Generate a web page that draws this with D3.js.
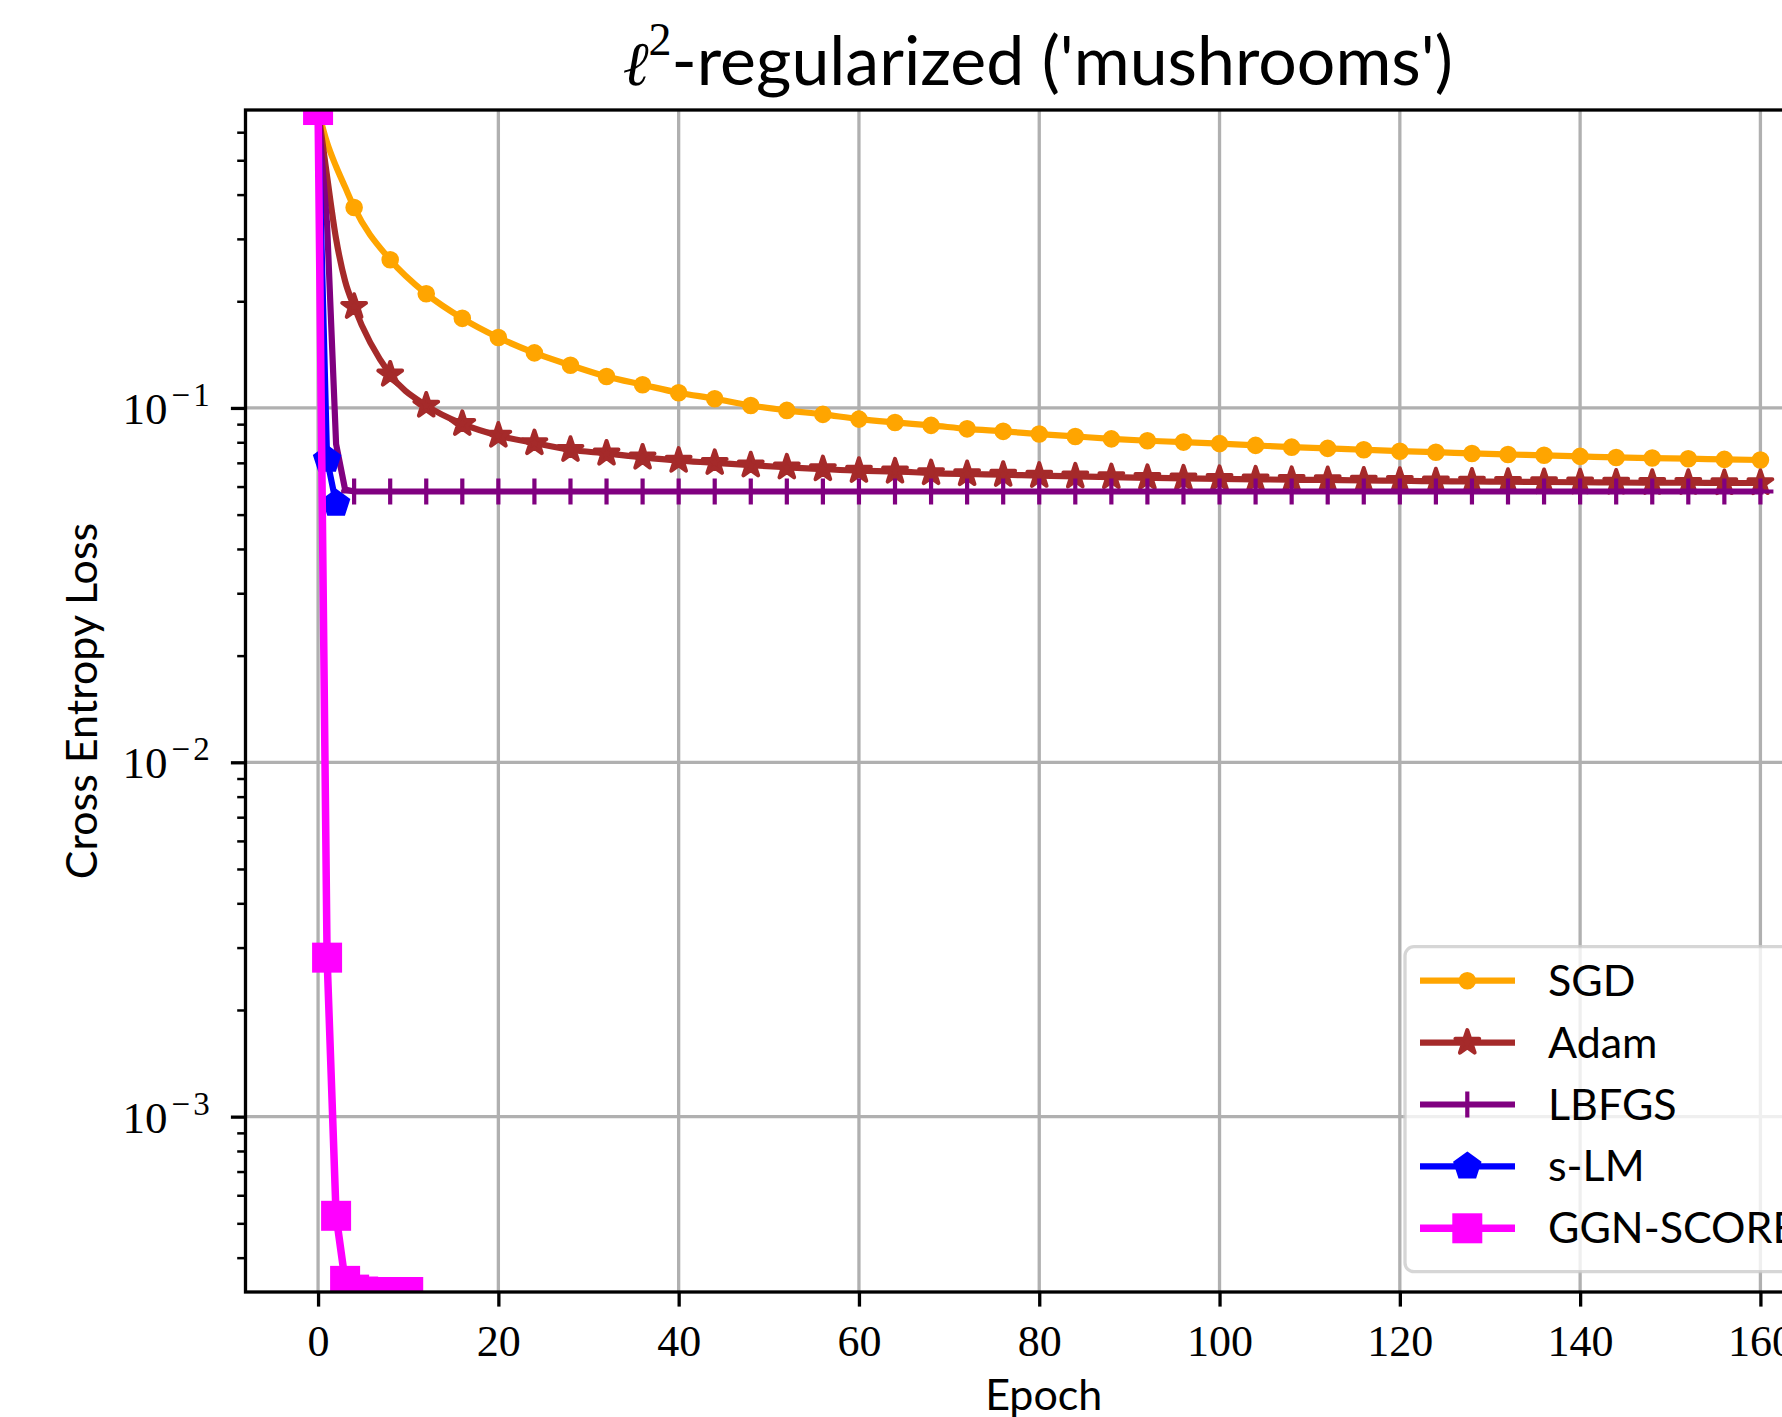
<!DOCTYPE html>
<html>
<head>
<meta charset="utf-8">
<script src="https://cdn.jsdelivr.net/npm/d3@7"></script>
<style>
  body { margin: 0; background: #fff; }
  svg { display: block; }
</style>
</head>
<body>
<div id="chart"></div>
<script>
/* data */
var seriesNames = ["SGD", "Adam", "LBFGS", "s-LM", "GGN-SCORE"];

var longEpochs = [0, 1, 2, 3, 4, 8, 12, 16, 20, 24, 28, 32, 36, 40, 44, 48, 52, 56, 60, 64, 68, 72,
                  76, 80, 84, 88, 92, 96, 100, 104, 108, 112, 116, 120, 124, 128, 132, 136, 140,
                  144, 148, 152, 156, 160];

var sgdLoss = [0.693, 0.56, 0.48, 0.42, 0.368, 0.262, 0.210, 0.179, 0.158, 0.143, 0.132, 0.1227,
               0.1163, 0.1104, 0.1062, 0.1016, 0.0984, 0.0959, 0.0930, 0.0910, 0.0893, 0.0873,
               0.0859, 0.0844, 0.0831, 0.0818, 0.0808, 0.0801, 0.0793, 0.0784, 0.0775, 0.0769,
               0.0762, 0.0755, 0.0750, 0.0744, 0.0739, 0.0735, 0.0730, 0.0725, 0.0722, 0.0719,
               0.0716, 0.0713];

var adamLoss = [0.693, 0.45, 0.30, 0.228, 0.193, 0.1243, 0.1016, 0.0902, 0.0836, 0.0796, 0.0762,
                0.0744, 0.0725, 0.0710, 0.0700, 0.0689, 0.0680, 0.0672, 0.0665, 0.0662, 0.0655,
                0.0651, 0.0648, 0.0644, 0.0641, 0.0638, 0.0635, 0.0633, 0.0631, 0.0629, 0.0627,
                0.0626, 0.0624, 0.0623, 0.0621, 0.0620, 0.0619, 0.0618, 0.0617, 0.0616, 0.0615,
                0.0615, 0.0614, 0.0614];

var lbfgsLoss = [0.693, 0.33, 0.079, 0.0588, 0.0581, 0.0581, 0.0581, 0.0581, 0.0581, 0.0581, 0.0581,
                 0.0581, 0.0581, 0.0581, 0.0581, 0.0581, 0.0581, 0.0581, 0.0581, 0.0581, 0.0581,
                 0.0581, 0.0581, 0.0581, 0.0581, 0.0581, 0.0581, 0.0581, 0.0581, 0.0581, 0.0581,
                 0.0581, 0.0581, 0.0581, 0.0581, 0.0581, 0.0581, 0.0581, 0.0581, 0.0581, 0.0581,
                 0.0581, 0.0581, 0.0581];

var slmEpochs = [0, 1, 2];
var slmLoss = [0.693, 0.0715, 0.0537];

var ggnEpochs = [0, 1, 2, 3, 4, 5, 6, 7, 8, 9, 10];
var ggnLoss = [0.693, 0.00281, 0.000525, 0.000344, 0.000325, 0.000321, 0.000320, 0.000320,
               0.000320, 0.000320, 0.000320];

var xTicks = [0, 20, 40, 60, 80, 100, 120, 140, 160];
var yTicks = [1e-3, 1e-2, 1e-1];
var yTickExp = ["\u22123", "\u22122", "\u22121"];

/* layout */
var W = 1782, H = 1417;
var pL = 245.5, pR = 1842, pT = 110, pB = 1292;

var svg = d3.select("#chart").append("svg")
    .attr("width", W).attr("height", H)
    .style("background", "#fff");

var x = d3.scaleLinear().domain([-8.05, 169.05]).range([pL, pR]);
var y = d3.scaleLog().domain([0.00032, 0.6931]).range([pB, pT]);

svg.append("defs").append("clipPath").attr("id", "plotclip")
  .append("rect").attr("x", pL).attr("y", pT)
  .attr("width", pR - pL).attr("height", pB - pT);

/* grid */
var grid = svg.append("g").attr("clip-path", "url(#plotclip)");
grid.selectAll(".vg").data(xTicks).enter().append("line")
    .attr("x1", function (d) { return x(d); }).attr("x2", function (d) { return x(d); })
    .attr("y1", pT).attr("y2", pB)
    .style("stroke", "#b0b0b0").style("stroke-width", 3.3);
grid.selectAll(".hg").data(yTicks).enter().append("line")
    .attr("y1", function (d) { return y(d); }).attr("y2", function (d) { return y(d); })
    .attr("x1", pL).attr("x2", pR)
    .style("stroke", "#b0b0b0").style("stroke-width", 3.3);

/* series */
function zip(es, vs) {
  return es.map(function (e, i) { return { e: e, v: vs[i] }; });
}
var series = [
  { name: "SGD", color: "#ffa500", marker: "circle", lw: 6.2, data: zip(longEpochs, sgdLoss), every4: true, smooth: true },
  { name: "Adam", color: "#a52a2a", marker: "star", lw: 6.2, data: zip(longEpochs, adamLoss), every4: true, smooth: true },
  { name: "LBFGS", color: "#800080", marker: "plus", lw: 6.2, data: zip(longEpochs, lbfgsLoss), every4: true, smooth: false },
  { name: "s-LM", color: "#0000ff", marker: "pentagon", lw: 6.2, data: zip(slmEpochs, slmLoss), every4: false, smooth: false },
  { name: "GGN-SCORE", color: "#ff00ff", marker: "square", lw: 7.5, data: zip(ggnEpochs, ggnLoss), every4: false, smooth: false }
];

function starPath(R) {
  var pts = [];
  for (var k = 0; k < 10; k++) {
    var r = k % 2 === 0 ? R : R * 0.381966;
    var a = -Math.PI / 2 + k * Math.PI / 5;
    pts.push([r * Math.cos(a), r * Math.sin(a)]);
  }
  return "M" + pts.map(function (p) { return p[0].toFixed(2) + "," + p[1].toFixed(2); }).join("L") + "Z";
}
function pentPath(R) {
  var pts = [];
  for (var k = 0; k < 5; k++) {
    var a = -Math.PI / 2 + k * 2 * Math.PI / 5;
    pts.push([R * Math.cos(a), R * Math.sin(a)]);
  }
  return "M" + pts.map(function (p) { return p[0].toFixed(2) + "," + p[1].toFixed(2); }).join("L") + "Z";
}

function drawMarker(g, type, cx, cy, color) {
  var m = g.append("g").attr("transform", "translate(" + cx + "," + cy + ")");
  if (type === "circle") {
    m.append("circle").attr("r", 6.8).style("fill", color).style("stroke", color).style("stroke-width", 4);
  } else if (type === "star") {
    m.append("path").attr("d", starPath(12.5)).style("fill", color).style("stroke", color)
     .style("stroke-width", 4).style("stroke-linejoin", "round");
  } else if (type === "plus") {
    m.append("path").attr("d", "M-13,0H13M0,-13V13").style("fill", "none").style("stroke", color)
     .style("stroke-width", 4.2);
  } else if (type === "pentagon") {
    m.append("path").attr("d", pentPath(12.5)).style("fill", color).style("stroke", color)
     .style("stroke-width", 4).style("stroke-linejoin", "miter");
  } else if (type === "square") {
    m.append("rect").attr("x", -13).attr("y", -13).attr("width", 26).attr("height", 26)
     .style("fill", color).style("stroke", color).style("stroke-width", 4);
  }
}

var smoothLine = d3.line()
    .curve(d3.curveMonotoneX)
    .x(function (d) { return x(d.e); })
    .y(function (d) { return y(d.v); });
var straightLine = d3.line()
    .x(function (d) { return x(d.e); })
    .y(function (d) { return y(d.v); });

var plot = svg.append("g").attr("clip-path", "url(#plotclip)");
series.forEach(function (s) {
  var g = plot.append("g");
  g.append("path").datum(s.data).attr("d", s.smooth ? smoothLine : straightLine)
   .style("fill", "none").style("stroke", s.color).style("stroke-width", s.lw)
   .style("stroke-linejoin", "round").style("stroke-linecap", "square");
  s.data.forEach(function (d) {
    if (!s.every4 || d.e % 4 === 0) drawMarker(g, s.marker, x(d.e), y(d.v), s.color);
  });
});

/* spines */
svg.append("rect").attr("x", pL).attr("y", pT)
   .attr("width", pR - pL).attr("height", pB - pT)
   .style("fill", "none").style("stroke", "#000").style("stroke-width", 3.3);

/* x axis */
var xAxis = svg.append("g").attr("transform", "translate(0," + pB + ")")
    .call(d3.axisBottom(x).tickValues(xTicks).tickSize(14.6).tickPadding(14).tickFormat(d3.format("d")));
xAxis.select(".domain").remove();
xAxis.selectAll(".tick line").style("stroke", "#000").style("stroke-width", 3.3);
xAxis.selectAll(".tick text")
    .attr("dy", null).attr("y", 64)
    .style("font-family", "'Liberation Serif', serif").style("font-size", "44px").style("fill", "#000");

/* y axis: major ticks */
var yAxis = svg.append("g").attr("transform", "translate(" + pL + ",0)")
    .call(d3.axisLeft(y).tickValues(yTicks).tickSize(14.6).tickFormat(""));
yAxis.select(".domain").remove();
yAxis.selectAll(".tick line").style("stroke", "#000").style("stroke-width", 3.3);

/* y axis: minor ticks */
var minor = y.ticks().filter(function (d) {
  var l = Math.log10(d);
  return Math.abs(l - Math.round(l)) > 1e-6;
});
var yMinor = svg.append("g").attr("transform", "translate(" + pL + ",0)")
    .call(d3.axisLeft(y).tickValues(minor).tickSize(8.3).tickFormat(""));
yMinor.select(".domain").remove();
yMinor.selectAll(".tick line").style("stroke", "#000").style("stroke-width", 2.5);

/* y tick labels 10^-k */
var yl = svg.append("g");
yTicks.forEach(function (t, i) {
  var tx = yl.append("text")
      .attr("x", 212.7).attr("y", y(t) + 16)
      .attr("text-anchor", "end")
      .style("font-family", "'Liberation Serif', serif").style("font-size", "45px").style("fill", "#000");
  tx.append("tspan").text("10");
  tx.append("tspan").attr("dy", -18).attr("dx", 4).style("font-size", "33px")
    .style("letter-spacing", "3px").text(yTickExp[i]);
});

/* labels */
var sans = "Lato, 'Noto Sans', sans-serif";
svg.append("text")
   .attr("x", (pL + pR) / 2).attr("y", 1410)
   .attr("text-anchor", "middle")
   .style("font-family", sans).style("font-size", "43px")
   .text("Epoch");

svg.append("text")
   .attr("transform", "translate(97," + ((pT + pB) / 2) + ") rotate(-90)")
   .attr("text-anchor", "middle")
   .style("font-family", sans).style("font-size", "43px")
   .text("Cross Entropy Loss");

var title = svg.append("text")
   .attr("x", (pL + pR) / 2 - 6).attr("y", 85)
   .attr("text-anchor", "middle")
   .style("font-family", sans).style("font-size", "68px");
title.append("tspan").style("font-family", "'DejaVu Serif', serif").style("font-style", "italic")
     .style("font-size", "62px").text("\u2113");
title.append("tspan").attr("dy", -30).style("font-family", "'Liberation Serif', serif")
     .style("font-size", "46px").text("2");
title.append("tspan").attr("dy", 30).text("-regularized ('mushrooms')");

/* legend */
var leg = svg.append("g");
leg.append("rect")
   .attr("x", 1405).attr("y", 946.7).attr("width", 1821 - 1405).attr("height", 1271.7 - 946.7)
   .attr("rx", 9).attr("ry", 9)
   .style("fill", "#fff").style("fill-opacity", 0.8)
   .style("stroke", "#cccccc").style("stroke-opacity", 0.8).style("stroke-width", 3.3);

var rowY = d3.scalePoint().domain(seriesNames).range([980.7, 1228.3]);
series.forEach(function (s) {
  var cy = rowY(s.name);
  var g = leg.append("g");
  g.append("line").attr("x1", 1420).attr("x2", 1515).attr("y1", cy).attr("y2", cy)
   .style("stroke", s.color).style("stroke-width", s.lw);
  drawMarker(g, s.marker, 1467.3, cy, s.color);
  g.append("text").attr("x", 1548).attr("y", cy + 15)
   .style("font-family", sans).style("font-size", "43px")
   .text(s.name);
});
</script>
</body>
</html>
